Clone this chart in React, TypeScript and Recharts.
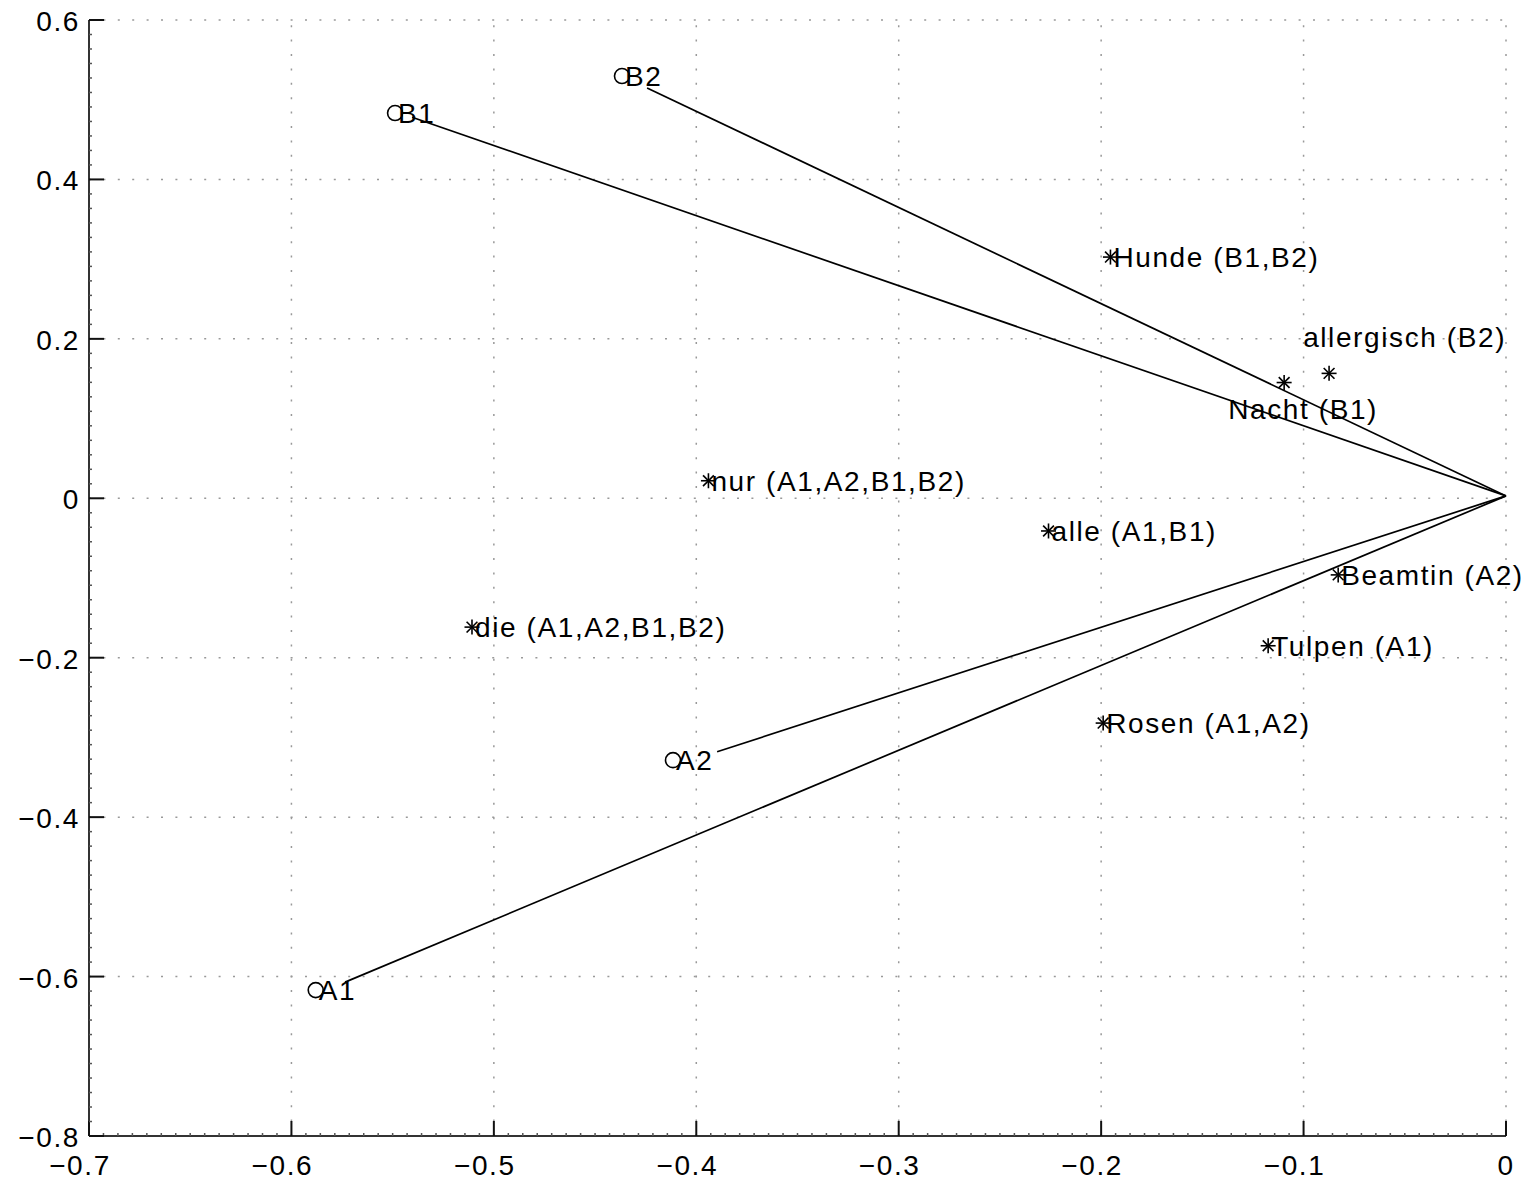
import { ReferenceLine, Scatter, ScatterChart, XAxis, YAxis } from 'recharts'

// tick values and their printed labels
const xTicks = [-0.7, -0.6, -0.5, -0.4, -0.3, -0.2, -0.1, 0]
const xTickLabels = ['−0.7', '−0.6', '−0.5', '−0.4', '−0.3', '−0.2', '−0.1', '0']
const yTicks = [-0.8, -0.6, -0.4, -0.2, 0, 0.2, 0.4, 0.6]
const yTickLabels = ['−0.8', '−0.6', '−0.4', '−0.2', '0', '0.2', '0.4', '0.6']

// document vectors (circles)
const docNames = ['A1', 'A2', 'B1', 'B2']
const docX = [-0.588, -0.4115, -0.5488, -0.4367]
const docY = [-0.617, -0.3285, 0.4833, 0.5297]

// where the drawn vector lines stop
const vecEndX = [-0.5735, -0.3897, -0.5404, -0.4243]
const vecEndY = [-0.607, -0.318, 0.478, 0.5147]
const origin = { x: 0, y: 0.003 }

// term vectors (stars)
const termNames = [
  'Hunde (B1,B2)',
  'allergisch (B2)',
  'Nacht (B1)',
  'nur (A1,A2,B1,B2)',
  'alle (A1,B1)',
  'Beamtin (A2)',
  'Tulpen (A1)',
  'Rosen (A1,A2)',
  'die (A1,A2,B1,B2)',
]
const termX = [-0.1954, -0.0874, -0.1096, -0.394, -0.226, -0.0829, -0.1175, -0.199, -0.5108]
const termY = [0.3026, 0.1567, 0.1452, 0.022, -0.041, -0.0961, -0.185, -0.282, -0.1616]
// label anchors (same as the star except where the text was moved)
const termLabelX = [-0.1954, -0.1017, -0.1387, -0.394, -0.226, -0.0829, -0.1175, -0.199, -0.5108]
const termLabelY = [0.3026, 0.2023, 0.112, 0.022, -0.041, -0.0961, -0.185, -0.282, -0.1616]

const FONT = '"Liberation Sans", Arial, Helvetica, sans-serif'

const docPoints = docNames.map((name, i) => ({ x: docX[i], y: docY[i], text: name }))
const termPoints = termNames.map((name, i) => ({ x: termX[i], y: termY[i] }))
const termLabels = termNames.map((name, i) => ({ x: termLabelX[i], y: termLabelY[i], text: name }))
const vectors = docNames.map((_, i) => [origin, { x: vecEndX[i], y: vecEndY[i] }])

// minor ticks, spaced like the original figure
const xMinor: number[] = []
for (let k = 1; k < 98; k++) if (k % 14 !== 0) xMinor.push(-0.7 + (k * 0.1) / 14)
const yMinor: number[] = []
for (let k = 1; k < 77; k++) if (k % 11 !== 0) yMinor.push(-0.8 + (k * 0.2) / 11)

const textStyle = { fontFamily: FONT, fontSize: 28, letterSpacing: 1.6, fill: '#000' }

function XTick(props: any) {
  const { x, y, payload } = props
  const i = xTicks.indexOf(payload.value)
  if (i < 0) return <line x1={x} x2={x} y1={y} y2={y - 3} stroke="#555" strokeWidth={1.5} />
  const label = xTickLabels[i]
  return (
    <g>
      <line x1={x} x2={x} y1={y} y2={y - 15} stroke="#111" strokeWidth={2} />
      <text x={label.startsWith('−') ? x - 9 : x} y={y + 39} textAnchor="middle" style={textStyle}>
        {label}
      </text>
    </g>
  )
}

function YTick(props: any) {
  const { x, y, payload } = props
  const i = yTicks.indexOf(payload.value)
  if (i < 0) return <line x1={x} x2={x + 3} y1={y} y2={y} stroke="#555" strokeWidth={1.5} />
  return (
    <g>
      <line x1={x} x2={x + 15} y1={y} y2={y} stroke="#111" strokeWidth={2} />
      <text x={x - 9} y={y + 11} textAnchor="end" style={textStyle}>
        {yTickLabels[i]}
      </text>
    </g>
  )
}

function Circle(props: any) {
  return <circle cx={props.cx} cy={props.cy} r={7.5} fill="none" stroke="#000" strokeWidth={1.6} />
}

function Star(props: any) {
  const { cx, cy } = props
  const r = 7.5
  const d = r * 0.72
  return (
    <g stroke="#000" strokeWidth={1.6}>
      <line x1={cx - r} x2={cx + r} y1={cy} y2={cy} />
      <line x1={cx} x2={cx} y1={cy - r} y2={cy + r} />
      <line x1={cx - d} x2={cx + d} y1={cy - d} y2={cy + d} />
      <line x1={cx - d} x2={cx + d} y1={cy + d} y2={cy - d} />
    </g>
  )
}

function Label(props: any) {
  return (
    <text x={props.cx + 3} y={props.cy + 10} style={textStyle}>
      {props.payload.text}
    </text>
  )
}

const noShape = () => <g />

export default function App() {
  return (
    <div style={{ position: 'absolute', left: 0, top: 0, background: '#fff' }}>
      <ScatterChart width={1526} height={1180} margin={{ top: 20, right: 20, bottom: 0, left: 0 }}>
        <XAxis
          type="number"
          dataKey="x"
          domain={[-0.7, 0]}
          ticks={[...xTicks, ...xMinor]}
          interval={0}
          tickSize={0}
          tickMargin={0}
          tickLine={false}
          tick={<XTick />}
          height={44}
          axisLine={{ stroke: '#333', strokeWidth: 2 }}
        />
        <YAxis
          type="number"
          dataKey="y"
          domain={[-0.8, 0.6]}
          ticks={[...yTicks, ...yMinor]}
          interval={0}
          tickSize={0}
          tickMargin={0}
          tickLine={false}
          tick={<YTick />}
          width={89}
          axisLine={{ stroke: '#333', strokeWidth: 2 }}
        />
        {xTicks.slice(1).map((v) => (
          <ReferenceLine key={'gx' + v} x={v} stroke="#999" strokeWidth={1.5} strokeDasharray="2 12.4" />
        ))}
        {yTicks.slice(1).map((v) => (
          <ReferenceLine key={'gy' + v} y={v} stroke="#999" strokeWidth={1.5} strokeDasharray="2 12.4" />
        ))}
        {vectors.map((seg, i) => (
          <Scatter
            key={'v' + i}
            data={seg}
            line={{ stroke: '#000', strokeWidth: 1.7 }}
            lineType="joint"
            shape={noShape}
            isAnimationActive={false}
          />
        ))}
        <Scatter data={docPoints} shape={<Circle />} isAnimationActive={false} />
        <Scatter data={docPoints} shape={<Label />} isAnimationActive={false} />
        <Scatter data={termPoints} shape={<Star />} isAnimationActive={false} />
        <Scatter data={termLabels} shape={<Label />} isAnimationActive={false} />
      </ScatterChart>
    </div>
  )
}
